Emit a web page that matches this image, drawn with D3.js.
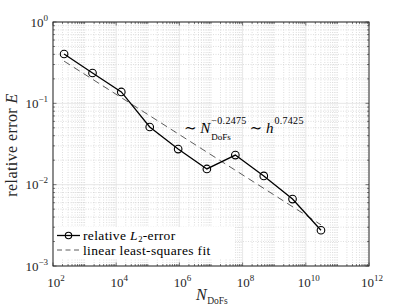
<!DOCTYPE html>
<html><head><meta charset="utf-8">
<script src="https://cdn.jsdelivr.net/npm/d3@7"></script>
<style>
html,body{margin:0;padding:0;background:#fff;}
svg{display:block;font-family:"Liberation Serif","DejaVu Serif",serif;}
</style></head>
<body>
<svg id="c" width="407" height="306"></svg>
<script>
// data
const nDofs = [224, 1780, 14500, 115000, 912000, 7400000, 58900000, 468000000, 3800000000, 30200000000];
const relError = [0.404, 0.236, 0.138, 0.0512, 0.0274, 0.0156, 0.0231, 0.0128, 0.00665, 0.00275];
const fitExponent = -0.2475;
const fitCoefficient = 1.26;
const xTickValues = [1e2, 1e4, 1e6, 1e8, 1e10, 1e12];
const xTickExponents = ["2", "4", "6", "8", "10", "12"];
const yTickValues = [1e-3, 1e-2, 1e-1, 1e0];
const yTickExponents = ["\u22123", "\u22122", "\u22121", "0"];
const legendLabels = ["relative ", "L", "2", "-error", "linear least-squares fit"];

const svg = d3.select("#c");
const L = 53, R = 369, T = 22, B = 266;
const x = d3.scaleLog().domain([1e2, 1e12]).range([L, R]);
const y = d3.scaleLog().domain([1e-3, 1e0]).range([B, T]);
const axisColor = "#262626";

const g = svg.append("g");
const xMinor = [], yMinor = [];
for (let e = 2; e < 12; e++) for (let m = 1; m <= 9; m++) { const v = m * Math.pow(10, e); if (!(m === 1 && e % 2 === 0)) xMinor.push(v); }
for (let e = -3; e < 0; e++) for (let m = 2; m <= 9; m++) yMinor.push(m * Math.pow(10, e));
g.selectAll(".xm").data(xMinor).enter().append("line")
  .attr("x1", d => x(d)).attr("x2", d => x(d)).attr("y1", T).attr("y2", B)
  .attr("stroke", "#c8c8c8").attr("stroke-width", 0.6).attr("stroke-dasharray", "1,1.5");
g.selectAll(".ym").data(yMinor).enter().append("line")
  .attr("y1", d => y(d)).attr("y2", d => y(d)).attr("x1", L).attr("x2", R)
  .attr("stroke", "#c8c8c8").attr("stroke-width", 0.6).attr("stroke-dasharray", "1,1.5");
g.selectAll(".xM").data(xTickValues).enter().append("line")
  .attr("x1", d => x(d)).attr("x2", d => x(d)).attr("y1", T).attr("y2", B)
  .attr("stroke", "#dedede").attr("stroke-width", 0.7);
g.selectAll(".yM").data(yTickValues).enter().append("line")
  .attr("y1", d => y(d)).attr("y2", d => y(d)).attr("x1", L).attr("x2", R)
  .attr("stroke", "#dedede").attr("stroke-width", 0.7);

const tickLen = 3.5, minorLen = 2;
const axG = svg.append("g").attr("stroke", axisColor).attr("stroke-width", 0.6);
xTickValues.forEach(v => {
  axG.append("line").attr("x1", x(v)).attr("x2", x(v)).attr("y1", B).attr("y2", B - tickLen);
  axG.append("line").attr("x1", x(v)).attr("x2", x(v)).attr("y1", T).attr("y2", T + tickLen);
});
xMinor.forEach(v => {
  axG.append("line").attr("x1", x(v)).attr("x2", x(v)).attr("y1", B).attr("y2", B - minorLen);
  axG.append("line").attr("x1", x(v)).attr("x2", x(v)).attr("y1", T).attr("y2", T + minorLen);
});
yTickValues.forEach(v => {
  axG.append("line").attr("y1", y(v)).attr("y2", y(v)).attr("x1", L).attr("x2", L + tickLen);
  axG.append("line").attr("y1", y(v)).attr("y2", y(v)).attr("x1", R).attr("x2", R - tickLen);
});
yMinor.forEach(v => {
  axG.append("line").attr("y1", y(v)).attr("y2", y(v)).attr("x1", L).attr("x2", L + minorLen);
  axG.append("line").attr("y1", y(v)).attr("y2", y(v)).attr("x1", R).attr("x2", R - minorLen);
});
svg.append("rect").attr("x", L).attr("y", T).attr("width", R - L).attr("height", B - T)
  .attr("fill", "none").attr("stroke", axisColor).attr("stroke-width", 1);

// tick labels
xTickValues.forEach((v, i) => {
  const t = svg.append("text").attr("x", x(v) + 3).attr("y", 287).attr("text-anchor", "middle")
    .attr("font-size", 13).attr("fill", axisColor);
  t.append("tspan").text("10");
  t.append("tspan").attr("dy", -6).attr("font-size", 9).text(xTickExponents[i]);
});
yTickValues.forEach((v, i) => {
  const t = svg.append("text").attr("x", 48).attr("y", y(v) + 4.5).attr("text-anchor", "end")
    .attr("font-size", 13).attr("fill", axisColor);
  t.append("tspan").text("10");
  t.append("tspan").attr("dy", -6).attr("font-size", 9).text(yTickExponents[i]);
});

function endX(sel) { return +sel.attr("x") + sel.node().getComputedTextLength(); }

// axis labels
const xn = svg.append("text").attr("x", 196).attr("y", 300).attr("font-size", 16).attr("font-style", "italic")
  .attr("fill", axisColor).text("N");
svg.append("text").attr("x", endX(xn) + 0.5).attr("y", 304).attr("font-size", 9.5).attr("fill", axisColor).text("DoFs");
const yl = svg.append("text").attr("transform", "translate(17,145) rotate(-90)").attr("text-anchor", "middle")
  .attr("font-size", 16).attr("fill", axisColor).attr("letter-spacing", 0.4);
yl.append("tspan").text("relative error ");
yl.append("tspan").attr("font-style", "italic").text("E");

// fit line
const fitX = [nDofs[0], nDofs[nDofs.length - 1]];
svg.append("path")
  .attr("d", d3.line().x(d => x(d)).y(d => y(fitCoefficient * Math.pow(d, fitExponent)))(fitX))
  .attr("fill", "none").attr("stroke", "#333").attr("stroke-width", 0.8).attr("stroke-dasharray", "7,4.5");

// data line
const pts = nDofs.map((d, i) => [d, relError[i]]);
svg.append("path").attr("d", d3.line().x(d => x(d[0])).y(d => y(d[1]))(pts))
  .attr("fill", "none").attr("stroke", "#000").attr("stroke-width", 1.3);
svg.selectAll(".pt").data(pts).enter().append("circle")
  .attr("cx", d => x(d[0])).attr("cy", d => y(d[1])).attr("r", 3.8)
  .attr("fill", "none").attr("stroke", "#000").attr("stroke-width", 1.1);

// annotation
const a1 = svg.append("text").attr("x", 184).attr("y", 133).attr("font-size", 15).attr("fill", "#000");
a1.append("tspan").text("\u223C ");
a1.append("tspan").attr("font-style", "italic").text("N");
const a1e = endX(a1) + 1;
const sup1 = svg.append("text").attr("x", a1e).attr("y", 123.5).attr("font-size", 10).attr("letter-spacing", 0.3).attr("fill", "#000").text("\u22120.2475");
svg.append("text").attr("x", a1e).attr("y", 140).attr("font-size", 9).attr("fill", "#000").text("DoFs");
const a2 = svg.append("text").attr("x", endX(sup1) + 3).attr("y", 133).attr("font-size", 15).attr("fill", "#000");
a2.append("tspan").text("\u223C ");
a2.append("tspan").attr("font-style", "italic").text("h");
svg.append("text").attr("x", endX(a2) + 1).attr("y", 123.5).attr("font-size", 10).attr("letter-spacing", 0.3).attr("fill", "#000").text("0.7425");

// legend
const lg = svg.append("g");
lg.append("rect").attr("x", 55).attr("y", 227).attr("width", 180).attr("height", 32).attr("fill", "#fff");
lg.append("line").attr("x1", 57).attr("x2", 80).attr("y1", 235.5).attr("y2", 235.5).attr("stroke", "#000").attr("stroke-width", 1.3);
lg.append("circle").attr("cx", 68.5).attr("cy", 235.5).attr("r", 3.2).attr("fill", "none").attr("stroke", "#000").attr("stroke-width", 1.1);
lg.append("line").attr("x1", 57).attr("x2", 80).attr("y1", 250).attr("y2", 250).attr("stroke", "#333").attr("stroke-width", 0.8).attr("stroke-dasharray", "5,3.5");
const l1 = lg.append("text").attr("x", 83).attr("y", 239.5).attr("font-size", 13.5).attr("letter-spacing", 0.35).attr("fill", "#000");
l1.append("tspan").text(legendLabels[0]);
l1.append("tspan").attr("font-style", "italic").text(legendLabels[1]);
const l1s = lg.append("text").attr("x", endX(l1) + 0.3).attr("y", 241.5).attr("font-size", 8.5).attr("fill", "#000").text(legendLabels[2]);
lg.append("text").attr("x", endX(l1s) + 0.3).attr("y", 239.5).attr("font-size", 13.5).attr("letter-spacing", 0.35).attr("fill", "#000").text(legendLabels[3]);
lg.append("text").attr("x", 83).attr("y", 254.5).attr("font-size", 13.5).attr("letter-spacing", 0.35).attr("fill", "#000").text(legendLabels[4]);
</script>
</body></html>
